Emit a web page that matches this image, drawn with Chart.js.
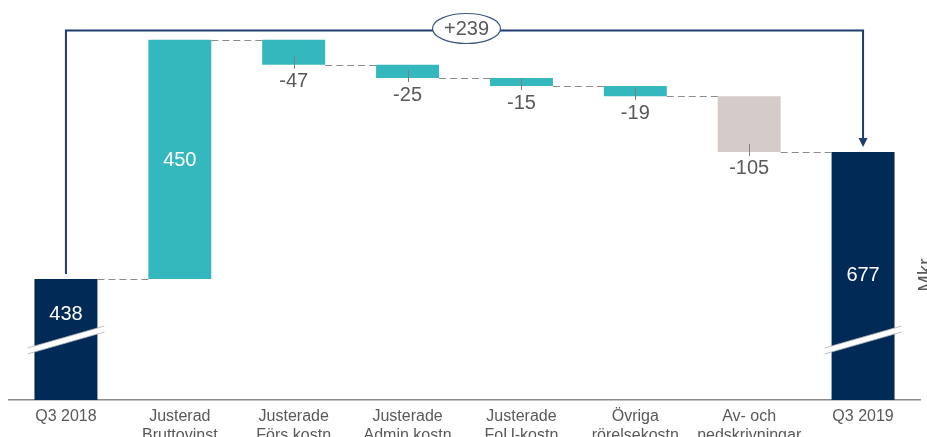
<!DOCTYPE html>
<html>
<head>
<meta charset="utf-8">
<script src="https://cdn.jsdelivr.net/npm/chart.js@4"></script>
<style>
    html, body { margin: 0; padding: 0; background: #fff; overflow: hidden; }
    canvas { display: block; }
</style>
</head>
<body>
<canvas id="bridge" width="927" height="437"></canvas>
<script>
// ── data ────────────────────────────────────────────────────────────
const categories = [
    'Q3 2018',
    ['Justerad', 'Bruttovinst'],
    ['Justerade', 'Förs kostn'],
    ['Justerade', 'Admin kostn'],
    ['Justerade', 'FoU-kostn'],
    ['Övriga', 'rörelsekostn'],
    ['Av- och', 'nedskrivningar'],
    'Q3 2019'
];
const values   = [438, 450, -47, -25, -15, -19, -105, 677];
const isTotal  = [true, false, false, false, false, false, false, true];
const barKinds = ['total', 'up', 'down', 'down', 'down', 'down', 'write', 'total'];
const axisMin  = 210;
const axisMax  = 963;
const unitLabel = 'Mkr';

const palette = {
    total: '#022a56',
    up:    '#35b8bd',
    down:  '#35b8bd',
    write: '#d5cbc9'
};
const textGrey = '#595959';

// running totals -> floating bars
const running = [];
const bars = [];
let acc = 0;
values.forEach((v, i) => {
    if (isTotal[i]) {
        acc = v;
        bars.push([axisMin, v]);
    } else {
        bars.push([acc, acc + v]);
        acc += v;
    }
    running.push(acc);
});
const change = values[values.length - 1] - values[0];

Chart.defaults.font.family = "'Liberation Sans', Arial, sans-serif";

// ── decorations: labels, connectors, breaks, bracket ────────────────
const bridgeDecor = {
    id: 'bridgeDecor',
    afterDatasetsDraw(chart) {
        const ctx  = chart.ctx;
        const meta = chart.getDatasetMeta(0).data;
        const ys   = chart.scales.y;
        const area = chart.chartArea;
        const breakY = area.bottom - 60;

        ctx.save();

        // dashed connectors
        ctx.strokeStyle = '#8c8c8c';
        ctx.lineWidth = 1;
        ctx.setLineDash([7, 4]);
        for (let i = 0; i < meta.length - 1; i++) {
            const a = meta[i], b = meta[i + 1];
            const y = Math.round(ys.getPixelForValue(running[i])) + 0.5;
            ctx.beginPath();
            ctx.moveTo(a.x + a.width / 2, y);
            ctx.lineTo(b.x - b.width / 2, y);
            ctx.stroke();
        }
        ctx.setLineDash([]);

        // axis-break slashes on total bars
        meta.forEach((bar, i) => {
            if (!isTotal[i]) return;
            const half = bar.width / 2 + 7;
            const rise = 11;
            const gap = 3;
            ctx.beginPath();
            ctx.moveTo(bar.x - half, breakY + rise - gap);
            ctx.lineTo(bar.x + half, breakY - rise - gap);
            ctx.lineTo(bar.x + half, breakY - rise + gap);
            ctx.lineTo(bar.x - half, breakY + rise + gap);
            ctx.closePath();
            ctx.fillStyle = '#ffffff';
            ctx.fill();
            ctx.strokeStyle = '#b0b0b0';
            ctx.lineWidth = 0.8;
            ctx.beginPath();
            ctx.moveTo(bar.x - half, breakY + rise - gap);
            ctx.lineTo(bar.x + half, breakY - rise - gap);
            ctx.moveTo(bar.x - half, breakY + rise + gap);
            ctx.lineTo(bar.x + half, breakY - rise + gap);
            ctx.stroke();
        });

        // value labels
        ctx.font = "20px 'Liberation Sans', Arial, sans-serif";
        ctx.textAlign = 'center';
        ctx.textBaseline = 'middle';
        meta.forEach((bar, i) => {
            const top = Math.min(bar.y, bar.base);
            const bottom = Math.max(bar.y, bar.base);
            const v = values[i];
            if (isTotal[i]) {
                const y = Math.min((top + area.bottom) / 2, breakY - 26);
                ctx.fillStyle = '#ffffff';
                ctx.fillText(String(v), bar.x, y);
            } else if (v > 0) {
                ctx.fillStyle = '#ffffff';
                ctx.fillText(String(v), bar.x, (top + bottom) / 2 + 1);
            } else {
                ctx.strokeStyle = '#7f7f7f';
                ctx.lineWidth = 1;
                ctx.beginPath();
                ctx.moveTo(Math.round(bar.x) + 0.5, bottom - 8);
                ctx.lineTo(Math.round(bar.x) + 0.5, bottom + 4);
                ctx.stroke();
                ctx.fillStyle = textGrey;
                ctx.fillText(String(v), bar.x, bottom + 17);
            }
        });

        // bracket with arrow
        const first = meta[0], last = meta[meta.length - 1];
        const peak = Math.min(...meta.map(b => Math.min(b.y, b.base)));
        const topY = Math.round(peak - 10) + 0.5;
        const firstTop = Math.min(first.y, first.base);
        const lastTop = Math.min(last.y, last.base);
        ctx.strokeStyle = '#1f3c6e';
        ctx.lineWidth = 2;
        ctx.beginPath();
        ctx.moveTo(first.x, firstTop - 5);
        ctx.lineTo(first.x, topY);
        ctx.lineTo(last.x, topY);
        ctx.lineTo(last.x, lastTop - 13);
        ctx.stroke();
        ctx.fillStyle = '#1f3c6e';
        ctx.beginPath();
        ctx.moveTo(last.x - 4.5, lastTop - 14);
        ctx.lineTo(last.x + 4.5, lastTop - 14);
        ctx.lineTo(last.x, lastTop - 5);
        ctx.closePath();
        ctx.fill();

        // change bubble
        const cx = (first.x + last.x) / 2 + 2;
        ctx.beginPath();
        ctx.ellipse(cx, topY - 2, 34, 15, 0, 0, Math.PI * 2);
        ctx.fillStyle = '#ffffff';
        ctx.fill();
        ctx.strokeStyle = '#3e5680';
        ctx.lineWidth = 1.2;
        ctx.stroke();
        ctx.fillStyle = textGrey;
        ctx.fillText((change > 0 ? '+' : '') + change, cx, topY - 1);

        // unit label, rotated at the right edge
        ctx.translate(932, 275);
        ctx.rotate(-Math.PI / 2);
        ctx.textBaseline = 'alphabetic';
        ctx.fillStyle = textGrey;
        ctx.fillText(unitLabel, 0, 0);

        ctx.restore();
    }
};

new Chart(document.getElementById('bridge').getContext('2d'), {
    type: 'bar',
    data: {
        labels: categories,
        datasets: [{
            data: bars,
            backgroundColor: barKinds.map(k => palette[k]),
            borderWidth: 0,
            borderSkipped: false,
            categoryPercentage: 1,
            barPercentage: 0.553
        }]
    },
    options: {
        responsive: false,
        animation: false,
        layout: { padding: { left: 9, right: 7, top: 0, bottom: 0 } },
        scales: {
            x: {
                grid: { display: false, drawTicks: false },
                border: { display: true, color: '#8c8c8c', width: 1.5 },
                ticks: {
                    color: textGrey,
                    font: { size: 16 },
                    padding: 7,
                    maxRotation: 0,
                    autoSkip: false
                },
                afterFit: scale => { scale.height = 37; }
            },
            y: {
                display: false,
                min: axisMin,
                max: axisMax
            }
        },
        plugins: {
            legend: { display: false },
            tooltip: { enabled: false }
        }
    },
    plugins: [bridgeDecor]
});
</script>
</body>
</html>
